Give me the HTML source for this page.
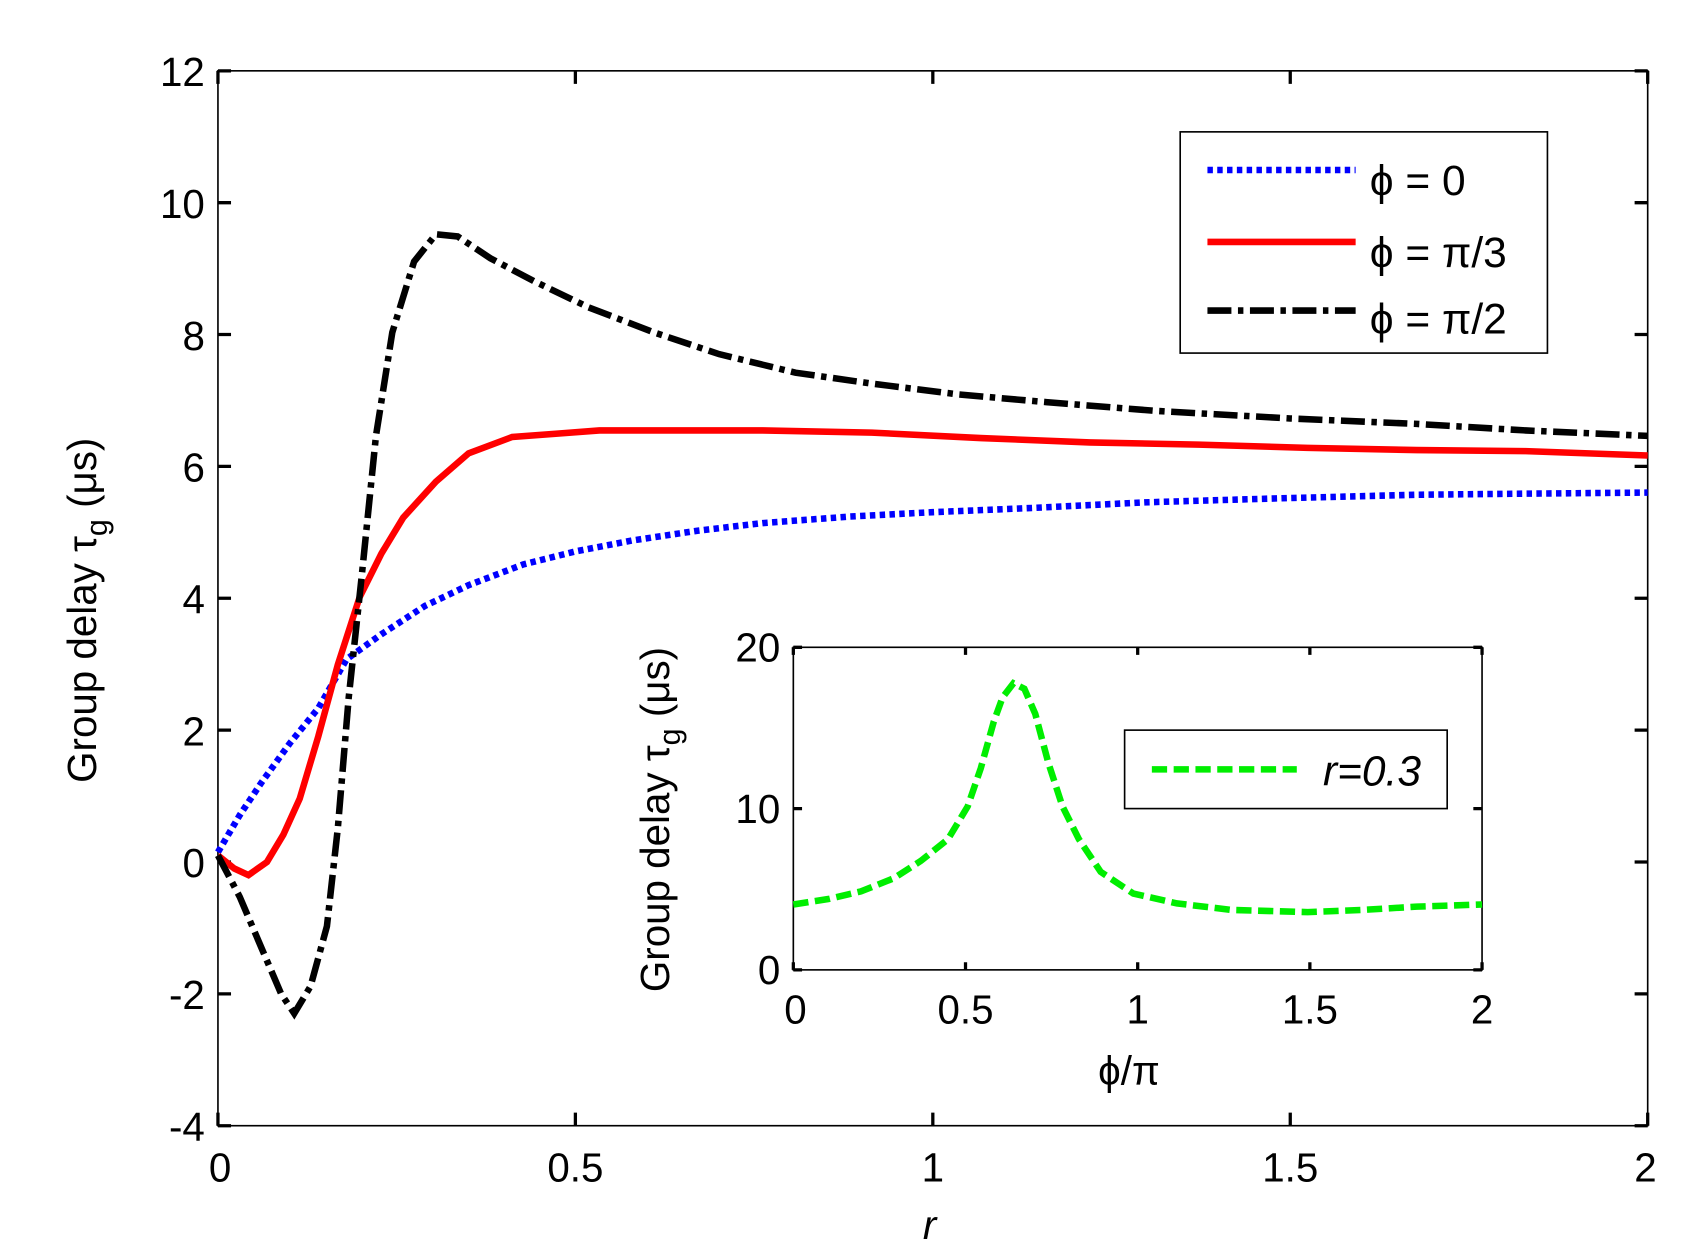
<!DOCTYPE html>
<html><head><meta charset="utf-8"><style>
html,body{margin:0;padding:0;background:#fff;}
svg{display:block}
text{font-family:"Liberation Sans",Arial,sans-serif;fill:#000}
</style></head><body>
<svg width="1700" height="1258" viewBox="0 0 1560 1154.4" preserveAspectRatio="none">
<rect width="1560" height="1154.4" fill="#fff"/>
<rect x="200" y="65" width="1312" height="968" fill="none" stroke="#000" stroke-width="1.5"/>
<g stroke="#000" stroke-width="3">
<path d="M200 65h12M200 186h12M200 307h12M200 428h12M200 549h12M200 670h12M200 791h12M200 912h12M200 1033h12"/>
<path d="M1512 65h-12M1512 186h-12M1512 307h-12M1512 428h-12M1512 549h-12M1512 670h-12M1512 791h-12M1512 912h-12M1512 1033h-12"/>
<path d="M200 1033v-12M528 1033v-12M856 1033v-12M1184 1033v-12M1512 1033v-12"/>
<path d="M200 65v12M528 65v12M856 65v12M1184 65v12M1512 65v12"/>
</g>
<g font-size="37" text-anchor="end">
<text x="188" y="79">12</text><text x="188" y="200">10</text><text x="188" y="321">8</text><text x="188" y="442">6</text><text x="188" y="563">4</text><text x="188" y="684">2</text><text x="188" y="805">0</text><text x="188" y="926">-2</text><text x="188" y="1047">-4</text>
</g>
<g font-size="37" text-anchor="middle">
<text x="202" y="1084">0</text><text x="528" y="1084">0.5</text><text x="856" y="1084">1</text><text x="1184" y="1084">1.5</text><text x="1510" y="1084">2</text>
<text x="853" y="1137" font-style="italic">r</text>
</g>
<text transform="translate(88 560) rotate(-90)" font-size="37" text-anchor="middle">Group delay τ<tspan font-size="28" dy="10">g</tspan><tspan dy="-10"> (μs)</tspan></text>

<polyline fill="none" stroke="#0000ff" stroke-width="6" stroke-dasharray="5 4" points="200,782 220,748 240,718 266,682 292,650 318,605 350,582 390,556 430,537 480,518 528,506 580,496 640,487 700,480 780,474 856,470 950,466 1050,461 1184,457 1300,454 1400,453 1512,452"/>
<polyline fill="none" stroke="#ff0000" stroke-width="6" points="200,785 215,797 228,803 245,791 260,766 275,733 292,676 310,610 330,548 350,508 370,475 400,442 430,416 470,401 510,398 550,395 700,395 800,397 900,402 1000,406 1100,408 1200,411 1300,413 1400,414 1512,418"/>
<polyline fill="none" stroke="#000" stroke-width="6" stroke-dasharray="22 6 5 6" points="200,785 220,823 240,870 258,912 270,930 285,905 300,850 310,760 320,640 332,528 345,400 360,305 380,240 400,215 420,217 450,237 490,258 540,282 600,305 660,325 730,342 800,352 880,362 960,369 1060,377 1184,384 1300,389 1400,395 1512,400"/>

<rect x="1083" y="121" width="337" height="203" fill="#fff" stroke="#000" stroke-width="1.5"/>
<line x1="1108" y1="156" x2="1244" y2="156" stroke="#0000ff" stroke-width="6" stroke-dasharray="5 4"/>
<line x1="1108" y1="222" x2="1244" y2="222" stroke="#ff0000" stroke-width="6"/>
<line x1="1108" y1="285" x2="1244" y2="285" stroke="#000" stroke-width="6" stroke-dasharray="22 6 5 6"/>
<g font-size="39"><text x="1257" y="179">ϕ = 0</text><text x="1257" y="245">ϕ = π/3</text><text x="1257" y="306">ϕ = π/2</text></g>

<rect x="728" y="594" width="632" height="296" fill="#fff" stroke="#000" stroke-width="1.5"/>
<g stroke="#000" stroke-width="3">
<path d="M728 890h8M728 742h8M728 594h8M1360 890h-8M1360 742h-8M1360 594h-8"/>
<path d="M728 890v-7M886 890v-7M1044 890v-7M1202 890v-7M1360 890v-7M728 594v7M886 594v7M1044 594v7M1202 594v7M1360 594v7"/>
</g>
<g font-size="37" text-anchor="end"><text x="716" y="607">20</text><text x="716" y="755">10</text><text x="716" y="903">0</text></g>
<g font-size="37" text-anchor="middle"><text x="730" y="939">0</text><text x="886" y="939">0.5</text><text x="1044" y="939">1</text><text x="1202" y="939">1.5</text><text x="1360" y="939">2</text>
<text x="1036" y="995">ϕ/π</text></g>
<text transform="translate(614 752) rotate(-90)" font-size="37" text-anchor="middle">Group delay τ<tspan font-size="28" dy="10">g</tspan><tspan dy="-10"> (μs)</tspan></text>
<polyline fill="none" stroke="#00ee00" stroke-width="6" stroke-dasharray="14 6" points="728,830 760,825 790,818 820,806 845,790 870,770 888,740 900,705 912,662 920,640 930,627 940,632 950,655 962,700 975,740 990,770 1010,800 1040,820 1080,829 1130,835 1200,837 1250,835 1300,832 1360,830"/>
<rect x="1032" y="670" width="296" height="72" fill="#fff" stroke="#000" stroke-width="1.5"/>
<line x1="1057" y1="706" x2="1190" y2="706" stroke="#00ee00" stroke-width="6" stroke-dasharray="14 6"/>
<text x="1214" y="721" font-size="39" font-style="italic">r=0.3</text>
</svg>
</body></html>
